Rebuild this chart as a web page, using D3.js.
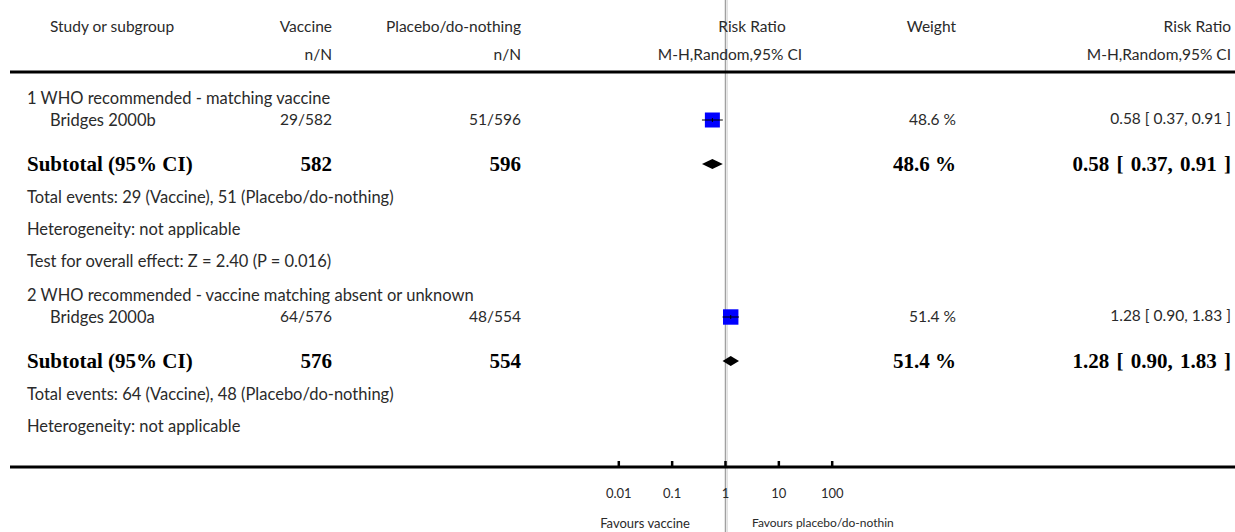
<!DOCTYPE html>
<html>
<head>
<meta charset="utf-8">
<script src="https://cdn.jsdelivr.net/npm/d3@7"></script>
<style>
  body { margin: 0; background: #fff; }
  svg text { font-family: Lato, "Open Sans", sans-serif; font-size: 16.5px; fill: #2a2a2a; }
  svg text.head { font-size: 15.5px; }
  svg text.num { font-size: 15.5px; }
  svg text.ci { font-size: 15.5px; }
  svg text.bold { font-family: "Liberation Serif", "DejaVu Serif", serif; font-weight: bold; font-size: 21px; fill: #000; }
  svg text.bold.wide { word-spacing: 2px; }
  svg text.small { font-size: 13px; }
  svg text.smaller { font-size: 12px; }
</style>
</head>
<body>
<svg id="forest"></svg>
<script>
// values
var groupTitles = ["1 WHO recommended - matching vaccine", "2 WHO recommended - vaccine matching absent or unknown"]
var studyNames = ["Bridges 2000b", "Bridges 2000a"]
var vaccineEvents = [29, 64]
var vaccineTotals = [582, 576]
var placeboEvents = [51, 48]
var placeboTotals = [596, 554]
var riskRatios = [0.58, 1.28]
var ciLows = [0.37, 0.90]
var ciHighs = [0.91, 1.83]
var weights = [48.6, 51.4]
var heterogeneity = ["Heterogeneity: not applicable", "Heterogeneity: not applicable"]
var overallTests = ["Test for overall effect: Z = 2.40 (P = 0.016)", null]
var axisTicks = [0.01, 0.1, 1, 10, 100]
var tickLabels = ["0.01", "0.1", "1", "10", "100"]
var favoursLeft = "Favours vaccine"
var favoursRight = "Favours placebo/do-nothin"

var width = 1235, height = 532
var svg = d3.select("#forest").attr("width", width).attr("height", height)

var x = d3.scaleLog().domain([0.01, 100]).range([618.3, 831.7])
var f2 = d3.format(".2f")
var ciText = function(i) {
  return f2(riskRatios[i]) + " [ " + f2(ciLows[i]) + ", " + f2(ciHighs[i]) + " ]"
}

// column anchors
var colStudy = 50, colGroup = 27, colVac = 332, colPla = 521, colWeight = 956, colRR = 1231

// line of no effect
svg.append("line")
  .attr("x1", x(1) + 0.5).attr("x2", x(1) + 0.5)
  .attr("y1", 0).attr("y2", height)
  .attr("stroke", "#a0a0a0").attr("stroke-width", 1.5)
svg.append("line")
  .attr("x1", x(1) + 2.5).attr("x2", x(1) + 2.5)
  .attr("y1", 0).attr("y2", height)
  .attr("stroke", "#e2e2e2").attr("stroke-width", 1)

function txt(xp, yp, s, anchor, cls) {
  return svg.append("text")
    .attr("x", xp).attr("y", yp)
    .attr("dy", "0.35em")
    .attr("text-anchor", anchor || "start")
    .attr("class", cls || null)
    .text(s)
}

// header
txt(colStudy, 27, "Study or subgroup", "start", "head")
txt(colVac, 27, "Vaccine", "end", "head")
txt(colVac, 55, "n/N", "end", "head")
txt(colPla, 27, "Placebo/do-nothing", "end", "head")
txt(colPla, 55, "n/N", "end", "head")
txt(752, 27, "Risk Ratio", "middle", "head")
txt(730, 55, "M-H,Random,95% CI", "middle", "head")
txt(colWeight, 27, "Weight", "end", "head")
txt(colRR, 27, "Risk Ratio", "end", "head")
txt(colRR, 55, "M-H,Random,95% CI", "end", "head")

svg.append("line")
  .attr("x1", 10).attr("x2", width)
  .attr("y1", 72).attr("y2", 72)
  .attr("stroke", "#000").attr("stroke-width", 3)

// groups
var groupTop = [98, 295]
groupTitles.forEach(function(title, i) {
  var y0 = groupTop[i]
  var yStudy = y0 + 22, ySub = y0 + 66
  txt(colGroup, y0, title)

  txt(colStudy, yStudy, studyNames[i])
  txt(colVac, yStudy, vaccineEvents[i] + "/" + vaccineTotals[i], "end", "num")
  txt(colPla, yStudy, placeboEvents[i] + "/" + placeboTotals[i], "end", "num")
  txt(colWeight, yStudy, weights[i].toFixed(1) + " %", "end", "num")
  txt(colRR, yStudy - 1, ciText(i), "end", "ci")

  var side = Math.sqrt(weights[i]) * 2.15
  svg.append("rect")
    .attr("x", x(riskRatios[i]) - side / 2)
    .attr("y", yStudy - side / 2)
    .attr("width", side).attr("height", side)
    .attr("fill", "#0000ff")
  svg.append("line")
    .attr("x1", x(ciLows[i])).attr("x2", x(ciHighs[i]))
    .attr("y1", yStudy).attr("y2", yStudy)
    .attr("stroke", "#000").attr("stroke-width", 1)
  svg.append("line")
    .attr("x1", x(riskRatios[i])).attr("x2", x(riskRatios[i]))
    .attr("y1", yStudy - 2).attr("y2", yStudy + 2)
    .attr("stroke", "#000").attr("stroke-width", 1)

  txt(colGroup, ySub, "Subtotal (95% CI)", "start", "bold")
  txt(colVac, ySub, vaccineTotals[i], "end", "bold")
  txt(colPla, ySub, placeboTotals[i], "end", "bold")
  txt(colWeight, ySub, weights[i].toFixed(1) + " %", "end", "bold")
  txt(colRR, ySub, ciText(i), "end", "bold wide")

  var lo = x(ciLows[i]), hi = x(ciHighs[i]), mid = x(riskRatios[i])
  svg.append("path")
    .attr("d", "M" + lo + "," + ySub + "L" + mid + "," + (ySub - 5) +
      "L" + hi + "," + ySub + "L" + mid + "," + (ySub + 5) + "Z")
    .attr("fill", "#000")

  txt(colGroup, y0 + 99, "Total events: " + vaccineEvents[i] + " (Vaccine), " +
    placeboEvents[i] + " (Placebo/do-nothing)")
  txt(colGroup, y0 + 131, heterogeneity[i])
  if (overallTests[i]) txt(colGroup, y0 + 163, overallTests[i])
})

// axis
var axisY = 467
svg.append("line")
  .attr("x1", 10).attr("x2", width)
  .attr("y1", axisY).attr("y2", axisY)
  .attr("stroke", "#000").attr("stroke-width", 3)

var axis = svg.append("g")
  .attr("transform", "translate(0," + axisY + ")")
  .call(d3.axisBottom(x)
    .tickValues(axisTicks)
    .tickSize(-6)
    .tickPadding(22)
    .tickFormat(function(d, i) { return tickLabels[i] }))
axis.select(".domain").remove()
axis.selectAll(".tick line").attr("stroke", "#000").attr("stroke-width", 2.5)
axis.selectAll(".tick text")
  .style("font-family", "Lato, sans-serif")
  .style("font-size", "13px")
  .attr("fill", "#2a2a2a")

txt(690, 523, favoursLeft, "end", "small")
txt(752, 523, favoursRight, "start", "smaller")
</script>
</body>
</html>
